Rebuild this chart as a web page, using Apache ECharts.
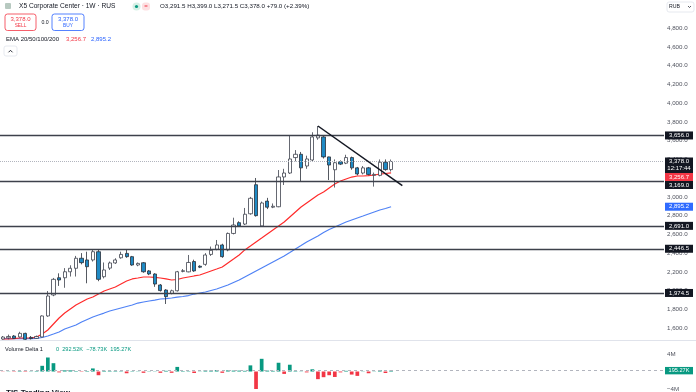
<!DOCTYPE html>
<html><head><meta charset="utf-8">
<script src="https://cdn.jsdelivr.net/npm/echarts@6/dist/echarts.min.js"></script>
<style>html,body{margin:0;padding:0;background:#fff}#c{width:696px;height:392px}</style>
</head><body><div id="c"></div>
<script>
// ---- data (weekly candles) ----
const opens  = [1483,1495,1515,1505,1543,1500,1490,1505,1729,1953,2137,2137,2201,2238,2345,2327,2327,2415,2148,2240,2295,2350,2397,2362,2273,2297,2210,2177,2060,2006,1970,1998,2205,2200,2310,2260,2280,2386,2440,2487,2434,2610,2725,2710,2820,3130,2690,2955,2890,2895,3213,3255,3420,3455,3330,3394,3630,3640,3427,3290,3375,3360,3420,3310,3255,3310,3230,3230,3370,3291.5];
const highs  = [1515,1530,1525,1560,1550,1515,1520,1735,1995,2135,2184,2240,2270,2370,2400,2415,2440,2440,2300,2310,2345,2415,2440,2370,2300,2305,2220,2185,2070,2015,2010,2210,2230,2380,2330,2270,2400,2470,2540,2500,2620,2778,2740,2882,3000,3202,2950,2990,2930,3287,3300,3660,3500,3480,3440,3690,3757,3650,3430,3400,3390,3450,3430,3320,3330,3320,3260,3400,3400,3399];
const lows   = [1475,1480,1485,1498,1475,1478,1485,1500,1720,1940,2050,2030,2150,2150,2280,2078,2310,2100,2130,2220,2285,2340,2350,2265,2260,2190,2165,2040,1990,1857,1960,1990,2195,2195,2200,2240,2265,2370,2430,2350,2420,2600,2680,2700,2810,2790,2680,2870,2880,2890,3127,3245,3380,3160,3300,3380,3610,3410,3180,3100,3340,3350,3290,3230,3240,3230,3110,3220,3280,3271.5];
const closes = [1504,1510,1490,1543,1480,1488,1510,1729,1942,2120,2113,2201,2238,2345,2298,2255,2415,2120,2220,2295,2327,2386,2362,2273,2290,2201,2177,2070,2000,1935,1998,2201,2212,2300,2210,2250,2380,2430,2487,2362,2610,2700,2690,2815,2985,2800,2935,2890,2900,3213,3255,3405,3455,3310,3405,3640,3660,3427,3340,3365,3350,3420,3310,3245,3310,3240,3240,3370,3291.5,3378];
const ema20  = [1483,1483,1488,1494,1494,1494,1504,1536,1579,1643,1707,1760,1803,1846,1878,1910,1931,1963,1995,2017,2038,2070,2102,2124,2134,2145,2145,2140,2134,2124,2113,2118,2134,2145,2156,2166,2188,2209,2230,2252,2295,2337,2380,2434,2476,2519,2561,2604,2647,2689,2732,2786,2839,2892,2935,2978,3021,3052,3095,3138,3170,3191,3212,3223,3223,3228,3234,3244,3250,3256.7];
const ema50  = [1488,1488,1488,1488,1488,1488,1490,1499,1515,1536,1558,1590,1611,1632,1664,1691,1718,1739,1760,1782,1798,1814,1830,1846,1867,1878,1889,1899,1910,1915,1921,1931,1937,1947,1963,1974,1985,2001,2017,2038,2059,2086,2113,2145,2177,2209,2241,2273,2305,2337,2369,2406,2444,2481,2519,2551,2583,2620,2652,2679,2706,2732,2754,2775,2796,2818,2839,2860,2876,2895.2];
const volDelta = [-0.05,0.05,-0.08,0.1,-0.1,0.06,0.1,1.3,3.2,1.9,-0.2,0.25,0.25,0.1,-0.08,0.1,0.7,-0.85,0.15,0.1,0.1,0.08,-0.4,0.08,0.05,-0.3,0.06,0.05,-0.3,0.15,-0.3,1.05,0.1,0.08,-0.35,0.05,0.25,0.2,0.3,-0.3,0.25,0.2,0.2,0.15,1.4,-5,2.9,0.2,0.15,2.0,-0.55,1.55,0.1,0.05,-0.2,0.5,-1.75,-1.3,-0.85,-1.25,-0.2,0.15,-0.7,-1.0,0.05,-0.4,0.05,0.3,-0.35,0.195];
const levels = [3656, 3169, 2691, 2446.5, 1974.5];
const lastPrice = 3378;
const lastTime = '12:17:44';
const emaLast = [3256.7, 2895.2];
const volLast = 0.19527;
const trendStart = [56, 3757];
const trendEnd = [71, 3120];
const priceTicks = [1600,1800,2000,2200,2400,2600,2800,3000,3200,3400,3600,3800,4000,4200,4400,4600,4800];
const volTicks = [-4, 4];
const TOTAL_SLOTS = 118;
const categories = Array.from({length: TOTAL_SLOTS}, (_, i) => 'W' + (i + 1));

const FONT = 'Liberation Sans, Arial, sans-serif';
const fmt = v => v.toFixed(1).replace(/\B(?=(\d{3})+(?!\d))/g, ',');

const chart = echarts.init(document.getElementById('c'), null, {renderer: 'canvas'});
const candleData = opens.map((o, i) => [o, closes[i], lows[i], highs[i]]);
const volData = volDelta.map(v => ({value: v, itemStyle: {color: v >= 0 ? '#089981' : '#f23645'}}));

chart.setOption({
  animation: false,
  backgroundColor: '#ffffff',
  grid: [
    {left: 0, right: 32, top: 0, height: 340},
    {left: 0, right: 32, top: 340, height: 52}
  ],
  xAxis: [
    {type: 'category', data: categories, gridIndex: 0, show: false, boundaryGap: true},
    {type: 'category', data: categories, gridIndex: 1, show: false, boundaryGap: true}
  ],
  yAxis: [
    {type: 'value', gridIndex: 0, position: 'right', min: 1472.4, max: 5102.1,
     axisLine: {show: false}, axisTick: {show: false}, splitLine: {show: false},
     axisLabel: {customValues: priceTicks, margin: 3, fontSize: 6.2, color: '#50535e', fontFamily: FONT,
                 formatter: v => fmt(v)}},
    {type: 'value', gridIndex: 1, position: 'right', min: -4, max: 7.2,
     axisLine: {show: false}, axisTick: {show: false}, splitLine: {show: false},
     axisLabel: {customValues: volTicks, margin: 3, fontSize: 6.2, color: '#50535e', fontFamily: FONT,
                 formatter: v => (v < 0 ? '\u2212' : '') + Math.abs(v) + 'M'}}
  ],
  series: [
    {type: 'line', data: ema50, xAxisIndex: 0, yAxisIndex: 0, symbol: 'none', z: 2,
     lineStyle: {color: '#4f82f5', width: 1.2}},
    {type: 'line', data: ema20, xAxisIndex: 0, yAxisIndex: 0, symbol: 'none', z: 2,
     lineStyle: {color: '#ff2b2b', width: 1.2}},
    {type: 'candlestick', data: candleData, xAxisIndex: 0, yAxisIndex: 0, barWidth: '66%', z: 3,
     itemStyle: {color: '#ffffff', color0: '#1f8ac4', borderColor: '#3f434e', borderColor0: '#2a2e39', borderWidth: 0.8},
     markLine: {
       silent: true, symbol: ['none', 'none'], label: {show: false},
       data: [
         ...levels.map(v => ({yAxis: v, lineStyle: {color: '#3d414b', width: 1.4, type: 'solid'}})),
         {yAxis: lastPrice, lineStyle: {color: '#b2b5be', width: 1, type: 'dotted'}},
         [{coord: trendStart, lineStyle: {color: '#131722', width: 1.5, type: 'solid'}}, {coord: trendEnd}]
       ]
     }},
    {type: 'bar', data: volData, xAxisIndex: 1, yAxisIndex: 1, barWidth: '66%',
     markLine: {silent: true, symbol: ['none', 'none'], label: {show: false},
       data: [{yAxis: volLast, lineStyle: {color: '#b2b5be', width: 1, type: [3, 3]}}]}}
  ]
});

// ---- overlay texts / price-scale labels ----
const g = [];
function txt(x, y, text, size, color, align, weight) {
  g.push({type: 'text', x: x, y: y, silent: true, z: 100,
    style: {text: text, fill: color, fontSize: size, fontFamily: FONT, fontWeight: weight || 'normal',
            align: align || 'left', textAlign: align || 'left', verticalAlign: 'middle', textVerticalAlign: 'middle'}});
}
function rect(x, y, w, h, fill, stroke, r) {
  g.push({type: 'rect', silent: true, z: 99, shape: {x: x, y: y, width: w, height: h, r: r || 0},
    style: {fill: fill, stroke: stroke || null, lineWidth: stroke ? 0.8 : 0}});
}
// header
rect(5, 3, 6, 6, '#b7c9c0', null, 1);
txt(19, 6.5, 'X5 Corporate Center \u00b7 1W \u00b7 RUS', 6.6, '#131722');
g.push({type: 'circle', silent: true, z: 99, shape: {cx: 136.5, cy: 6.5, r: 4}, style: {fill: '#d7f0e6'}});
g.push({type: 'circle', silent: true, z: 100, shape: {cx: 136.5, cy: 6.5, r: 1.6}, style: {fill: '#089981'}});
rect(142, 2.5, 8, 8, '#fde0e2', null, 3);
txt(146, 6.5, '=', 6, '#f23645', 'center');
txt(160, 6.5, 'O' + fmt(opens[69]) + ' H' + fmt(highs[69]) + ' L' + fmt(lows[69]) + ' C' + fmt(closes[69]) + ' +79.0 (+2.39%)', 6.2, '#131722');
// sell / buy
rect(5, 14, 31, 16.5, '#ffffff', '#f23645', 2.5);
txt(20.5, 19.5, fmt(lastPrice), 6, '#f23645', 'center');
txt(20.5, 26, 'SELL', 4.8, '#f23645', 'center');
txt(45, 22.5, '0.0', 5.2, '#131722', 'center');
rect(52, 14, 32, 16.5, '#ffffff', '#2962ff', 2.5);
txt(68, 19.5, fmt(lastPrice), 6, '#2962ff', 'center');
txt(68, 26, 'BUY', 4.8, '#2962ff', 'center');
// EMA legend
txt(6, 39, 'EMA 20/50/100/200', 6, '#131722');
txt(66, 39, fmt(emaLast[0]), 6, '#f23645');
txt(91, 39, fmt(emaLast[1]), 6, '#2962ff');
rect(4, 46, 13, 10, '#ffffff', '#e0e3eb', 2);
g.push({type: 'polyline', silent: true, z: 100, shape: {points: [[8.5, 52.3], [10.5, 50.3], [12.5, 52.3]]}, style: {stroke: '#131722', lineWidth: 0.9, fill: null}});
// currency box
rect(667, 2, 27, 10, '#ffffff', '#e0e3eb', 2);
txt(669, 7, 'RUB', 5.2, '#131722');
g.push({type: 'polyline', silent: true, z: 100, shape: {points: [[688, 6], [689.5, 7.5], [691, 6]]}, style: {stroke: '#131722', lineWidth: 0.7, fill: null}});
// pane separator
g.push({type: 'line', silent: true, z: 98, shape: {x1: 0, y1: 340.5, x2: 696, y2: 340.5}, style: {stroke: '#e0e3eb', lineWidth: 1}});
// volume legend
txt(5, 349.5, 'Volume Delta 1', 5.6, '#131722');
txt(56, 349.5, '0  292.52K  \u221278.73K  195.27K', 5.6, '#089981');
// cut-off caption at the very bottom
txt(6, 393, 'TIS Trading View', 8, '#131722', 'left', 'bold');

// price-scale labels
const py = v => chart.convertToPixel({yAxisIndex: 0}, v);
const labels = [
  {v: levels[0], t: fmt(levels[0]), bg: '#131722'},
  {v: lastPrice, t: fmt(lastPrice), sub: lastTime, bg: '#131722'},
  {v: emaLast[0], t: fmt(emaLast[0]), bg: '#f23645'},
  {v: levels[1], t: fmt(levels[1]), bg: '#131722'},
  {v: emaLast[1], t: fmt(emaLast[1]), bg: '#2f6bff'},
  {v: levels[2], t: fmt(levels[2]), bg: '#131722'},
  {v: levels[3], t: fmt(levels[3]), bg: '#131722'},
  {v: levels[4], t: fmt(levels[4]), bg: '#131722'}
];
let prevBottom = -1e9;
labels.forEach(l => {
  const y = py(l.v);
  const h = l.sub ? 15.5 : 8;
  let top = y - 4;
  if (top < prevBottom) top = prevBottom;
  rect(665, top, 28, h, l.bg);
  txt(679, top + 4, l.t, 6, '#ffffff', 'center');
  if (l.sub) txt(679, top + 11.3, l.sub, 6, '#ffffff', 'center');
  prevBottom = top + h;
});
const vy = chart.convertToPixel({yAxisIndex: 1}, volLast);
rect(665, vy - 3.7, 28, 7.4, '#089981');
txt(679, vy, '195.27K', 5.6, '#ffffff', 'center');

chart.setOption({graphic: g});
</script></body></html>
